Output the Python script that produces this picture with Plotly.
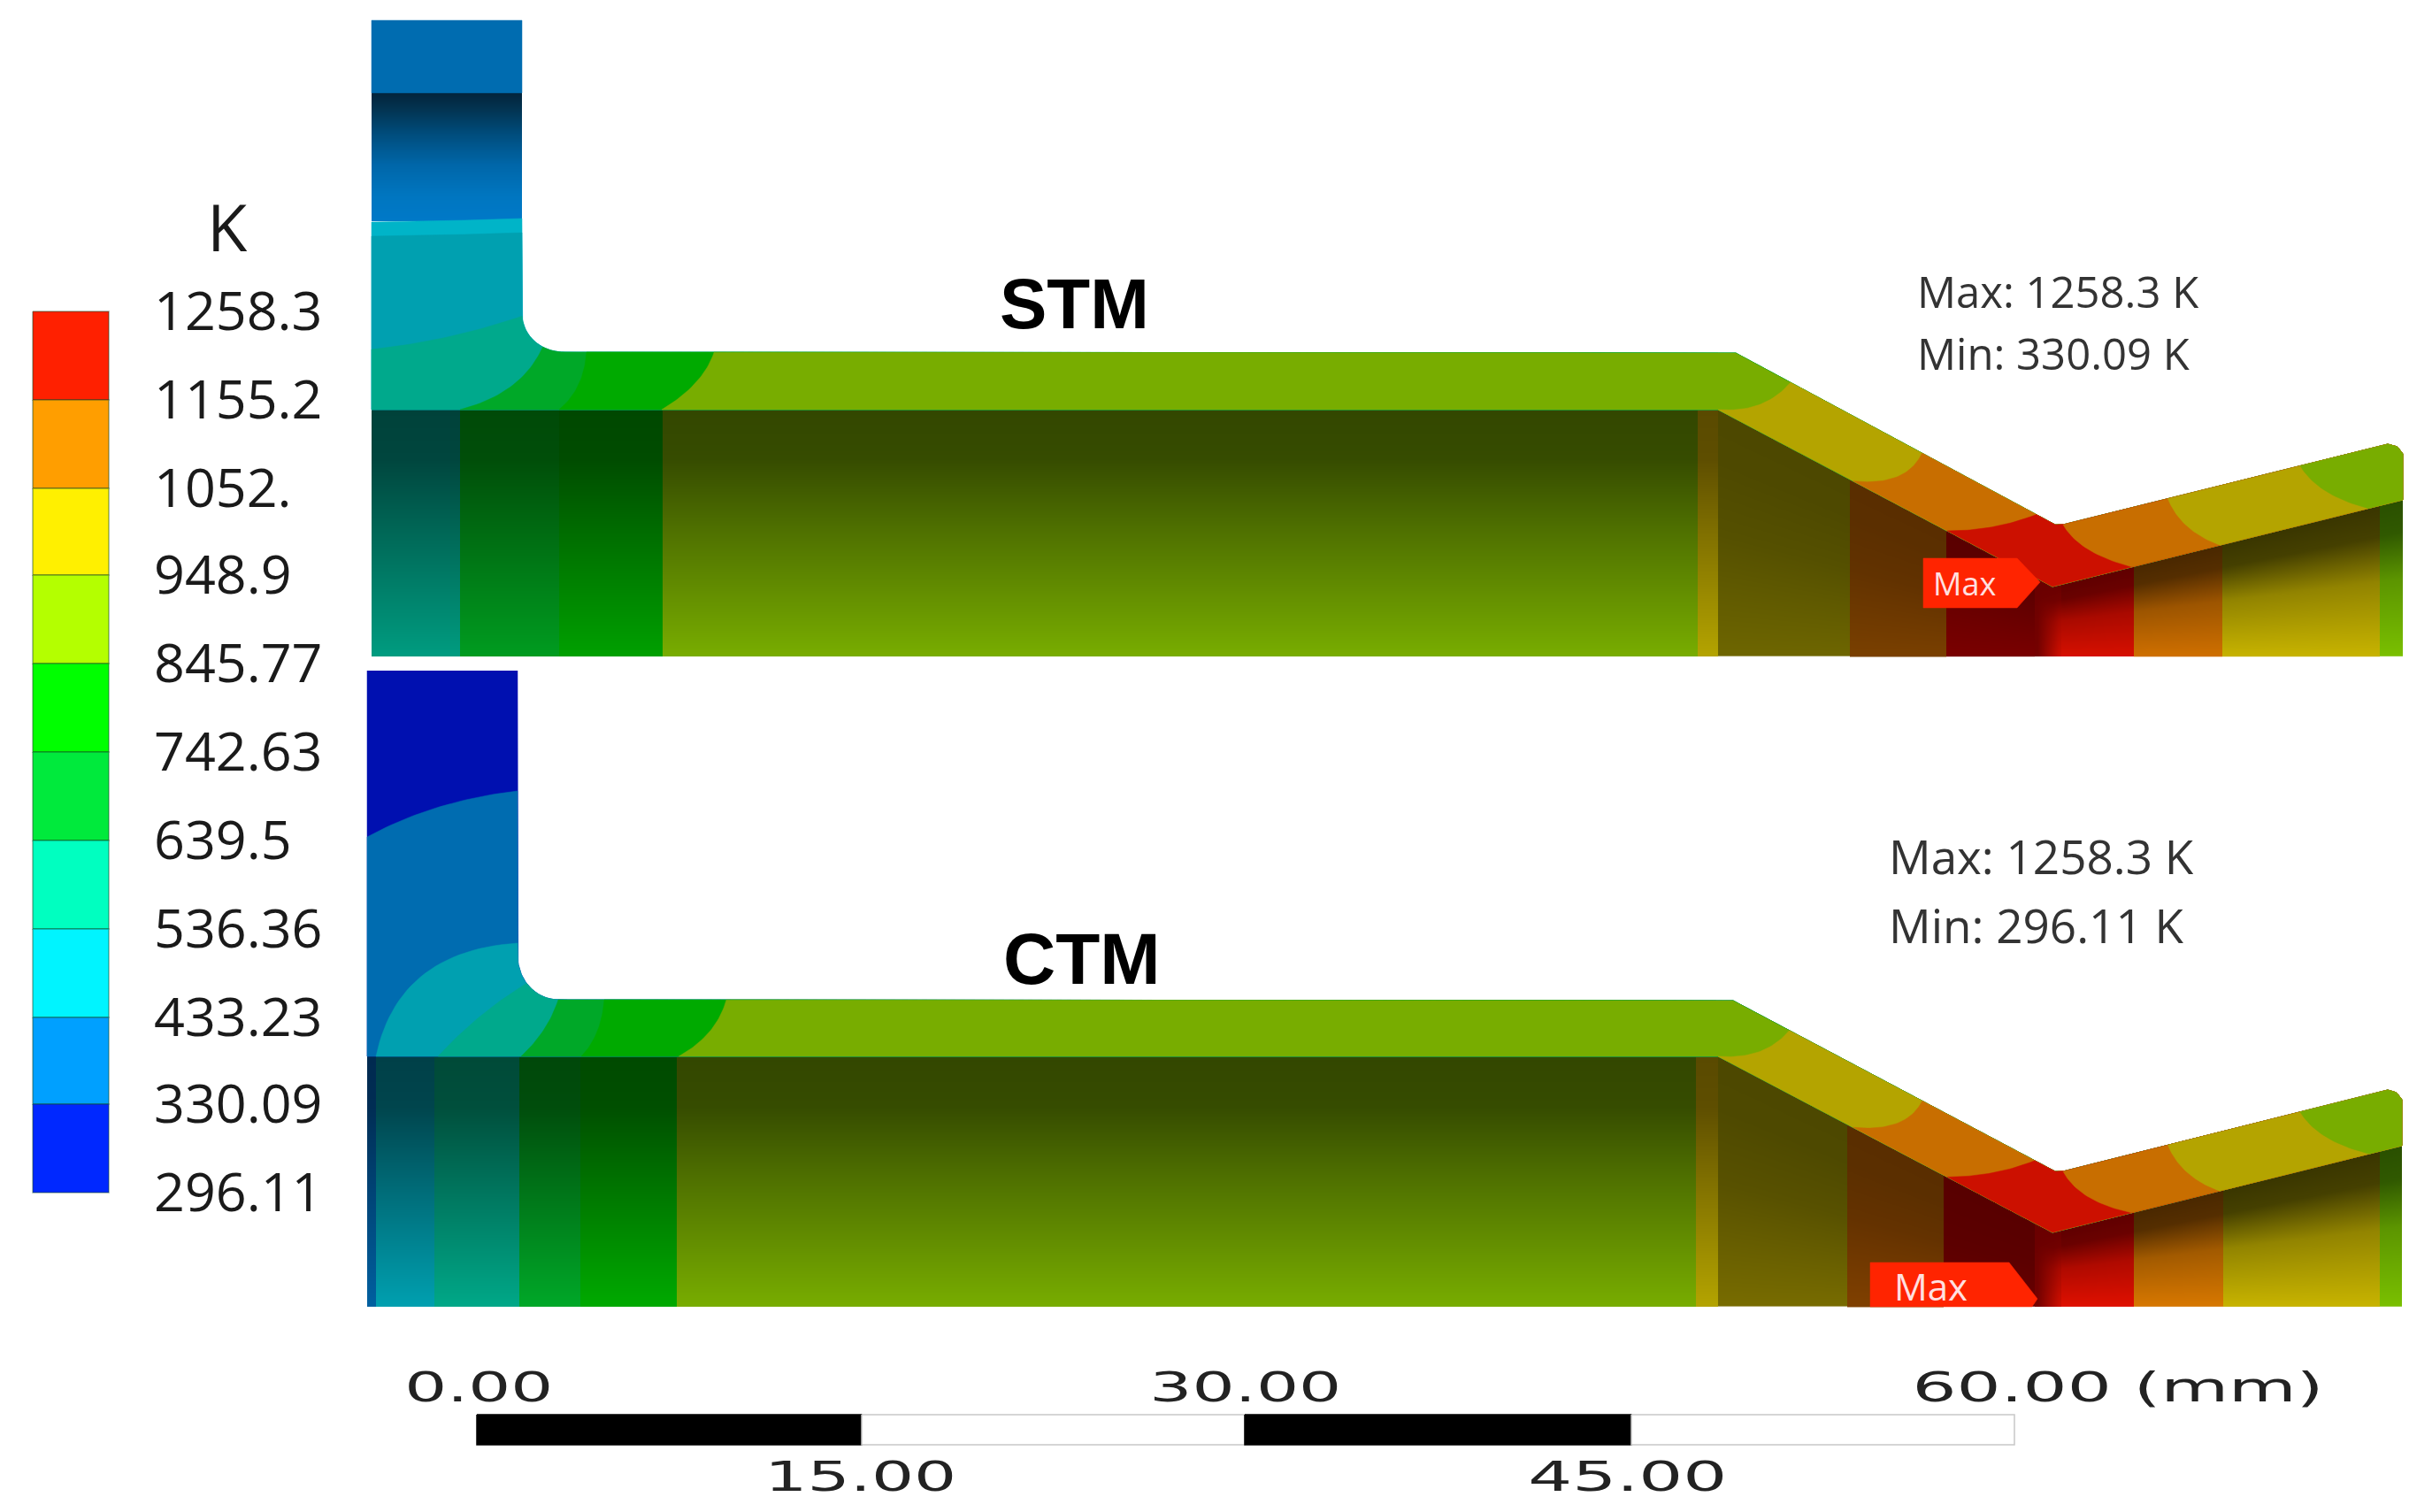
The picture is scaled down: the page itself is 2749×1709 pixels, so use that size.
import numpy as np
import plotly.graph_objects as go

# ---------- legend ----------
LEGEND_LABELS = ["1258.3","1155.2","1052.","948.9","845.77","742.63","639.5","536.36","433.23","330.09","296.11"]
LEGEND_COLORS = ["#ff2000","#ff9e00","#fff000","#b4ff00","#00ff00","#00ea3c","#00ffc0","#00f4ff","#00a0ff","#0028ff"]
LEGEND_Y = [352,452,552,650,750,850,950,1050,1150,1248,1348]
LEGEND_X = [37,123]

# ---------- shared surface colours ----------
GREEN_OLIVE="#78ad00"; GOLD="#b4a400"; ORANGE="#c86e00"; RED="#cc1000"
RAMP_T=[0,.2,.5,1]; RAMP_F=[0,.05,.42,1]
RAMP_R=[0,.08,.62,1]     # faces right of the notch brighten sooner
RAMP_S=[0,.03,.25,1]     # faces under the descending slope stay dark longer
RIGHT_FROM=2330
SLOW_RANGE=[1940,2200]

# ---------- STM geometry (pixels of the drawing space) ----------
STM_OUTER=[(590,23),(590,355),"arc",(637,398),(1962,399),(2323,593),(2332,593),(2699,502),(2710,505),(2716,513),(2716,565)]
STM_INNER=[(420,23),(420,463),(1942,463),(2320,663),(2716,565)]
STM_BOTTOM=742
STM_STEM_BAND=[23,105,250]
STM_BANDS=[
 ((590,248),(505,250),(420,252),"#00b4c8"),
 ((590,264),(505,266),(420,268),"#00a0b0"),
 ((590,357),(510,385),(420,395),"#00a98c"),
 ((611,395),(590,445),(520,463),"#00a828"),
 ((663,398),(660,440),(632,463),"#00aa00"),
 ((807,398),(795,435),(749,463),GREEN_OLIVE),
 ((2022,437),(1995,467),(1942,463),GOLD),
 ((2171,516),(2155,550),(2094,543),ORANGE),
 ((2300,585),(2255,600),(2200,603),RED),
 ((2332,595),(2350,625),(2409,640),ORANGE),
 ((2452,567),(2465,600),(2509,617),GOLD),
 ((2601,528),(2620,560),(2676,570),GREEN_OLIVE),
]
STM_COL_X=[420,520,632,749,1919,1942,2091,2200,2300,2330,2412,2512,2690,2716]
STM_COL_TOP=["#00423a","#004a08","#004800","#334700","#5a4a00","#4d4800","#5a2e00","#5a0000","blend","#600000","#4a2800","#3a3600","#2a5000"]
STM_COL_BOT=["#009c80","#009c20","#00a000","#78ad00","#b4a400","#6e6600","#7a4000","#7a0000","blend","#d81000","#d07000","#c8b400","#7ac000"]

# ---------- CTM geometry ----------
CTM_OUTER=[(585,758),(585,1080),"arc",(631,1130),(1959,1131),(2323,1324),(2332,1324),(2699,1232),(2709,1235),(2715,1243),(2715,1295)]
CTM_INNER=[(415,758),(415,1194),(1942,1194),(2320,1393),(2715,1295)]
CTM_BOTTOM=1477
CTM_BANDS=[
 ((585,895),(490,905),(415,946),"#006cb0"),
 ((585,1066),(450,1075),(426,1193),"#00a0b0"),
 ((592,1114),(540,1145),(495,1193),"#00a98c"),
 ((631,1130),(620,1165),(589,1193),"#00a828"),
 ((684,1130),(680,1170),(657,1193),"#00aa00"),
 ((822,1130),(810,1170),(767,1193),GREEN_OLIVE),
 ((2022,1167),(1995,1198),(1942,1194),GOLD),
 ((2171,1247),(2155,1280),(2094,1275),ORANGE),
 ((2297,1317),(2255,1330),(2200,1332),RED),
 ((2332,1327),(2350,1358),(2409,1368),ORANGE),
 ((2452,1297),(2465,1330),(2509,1345),GOLD),
 ((2601,1258),(2620,1290),(2676,1300),GREEN_OLIVE),
]
CTM_COL_X=[415,425,491,587,656,765,1917,1942,2088,2197,2300,2330,2412,2513,2690,2715]
CTM_COL_TOP=["#002a50","#004048","#004a38","#00480a","#004a00","#334700","#5a4a00","#4d4800","#5a2e00","#580000","blend","#600000","#4a2800","#3a3600","#2a5000"]
CTM_COL_BOT=["#0060a0","#00a0b0","#00a888","#00a828","#00aa00","#78ad00","#b4a400","#786c00","#804000","#6a0000","blend","#e01000","#d87800","#c8b400","#7ac000"]

# ---------- labels ----------
STM_LABEL="STM"; CTM_LABEL="CTM"
STM_MAX="Max: 1258.3 K"; STM_MIN="Min: 330.09 K"
CTM_MAX="Max: 1258.3 K"; CTM_MIN="Min: 296.11 K"
SCALE_EDGES=[539,974,1407,1844,2277]
SCALE_TOP=["0.00","30.00","60.00 (mm)"]
SCALE_TOP_X=[541,1408,2394]
SCALE_BOTTOM=["15.00","45.00"]
SCALE_BOTTOM_X=[973,1840]
SCALE_TEXT_WIDTH={"0.00":168,"30.00":217,"60.00 (mm)":465,"15.00":217,"45.00":225}

W,H=2749,1709
fig=go.Figure()

def hex2rgb(c):
    return np.array([int(c[i:i+2],16) for i in (1,3,5)],float)
def css(v):
    return "rgb(%d,%d,%d)"%tuple(np.round(v))
def ramp(top,bot,fr):
    a,b=hex2rgb(top),hex2rgb(bot)
    return [[t,css(a+(b-a)*f)] for t,f in zip(RAMP_T,fr)]

def densify(poly):
    pts=[]
    for i,p in enumerate(poly):
        if p=="arc":
            a=poly[i-1]; b=poly[i+1]
            for th in np.linspace(0,np.pi/2,16)[1:-1]:
                pts.append((b[0]-(b[0]-a[0])*np.cos(th), a[1]+(b[1]-a[1])*np.sin(th)))
        else:
            pts.append(p)
    out=[]
    for p,q in zip(pts[:-1],pts[1:]):
        n=max(2,int(np.hypot(q[0]-p[0],q[1]-p[1])/2))
        for s in np.linspace(0,1,n,endpoint=False):
            out.append((p[0]+(q[0]-p[0])*s,p[1]+(q[1]-p[1])*s))
    out.append(pts[-1])
    return np.array(out)

def poly_trace(x,y,color,line=None,lw=0.5):
    fig.add_trace(go.Scatter(x=list(x),y=list(y),mode="lines",fill="toself",fillcolor=color,
        line=dict(color=line or color,width=lw),hoverinfo="skip",showlegend=False))

def nearest(arr,p):
    return int(np.argmin(np.hypot(arr[:,0]-p[0],arr[:,1]-p[1])))

def lower_columns(col_x,tops,bots,inner_def,bottom):
    flat=np.array(inner_def[1:],float)
    for k,(x0,x1,t,b) in enumerate(zip(col_x[:-1],col_x[1:],tops,bots)):
        xe=np.linspace(x0,x1,max(3,int((x1-x0)/6)+1))
        xc=(xe[:-1]+xe[1:])/2
        top=np.interp(xc,flat[:,0],flat[:,1])
        ye=np.append(np.arange(top.min()-12,bottom,3.0),bottom)
        yc=(ye[:-1]+ye[1:])/2
        z=np.full((len(yc),len(xc)),np.nan)
        for j,(xv,tv) in enumerate(zip(xc,top)):
            u=np.clip((yc-tv)/(bottom-tv),0,1)
            if t=="blend":
                u=np.interp(u,RAMP_T,RAMP_R)*(xv-x0)/(x1-x0)
            z[:,j]=np.where(yc<tv-12,np.nan,u)
        if t=="blend":
            cs=[[0,"#6a0000"],[1,"#d81000"]]
        elif x0>=RIGHT_FROM:
            cs=ramp(t,b,RAMP_R)
        elif SLOW_RANGE[0]<=x0<SLOW_RANGE[1]:
            cs=ramp(t,b,RAMP_S)
        else:
            cs=ramp(t,b,RAMP_F)
        fig.add_trace(go.Heatmap(x=xe,y=ye,z=z.tolist(),zmin=0,zmax=1,colorscale=cs,zsmooth="best",
            showscale=False,hoverinfo="skip"))

def shell(outer_def,inner_def,bands,first_color):
    outer=densify(outer_def); inner=densify(inner_def)
    if first_color:
        poly_trace(np.r_[outer[:,0],inner[::-1,0]],np.r_[outer[:,1],inner[::-1,1]],first_color)
    for po,pc,pi,c in bands:
        io=nearest(outer,po); ii=nearest(inner,pi)
        a=outer[io]; b=inner[ii]; s=np.linspace(0,1,30)[:,None]
        curve=(1-s)**2*b+2*s*(1-s)*np.array(pc)+s**2*a
        xy=np.r_[curve,outer[io:],inner[ii:][::-1]]
        poly_trace(xy[:,0],xy[:,1],c)

def stem_gradient(x0,x1,y0,y1):
    ye=np.linspace(y0,y1,49)
    t=(ye[:-1]+ye[1:]-2*y0)/2/(y1-y0)
    z=np.c_[t,t]
    cs=[[0,"#03243c"],[.12,"#033350"],[.3,"#004a78"],[.55,"#0066a8"],[.8,"#0076c0"],[1,"#0079c8"]]
    fig.add_trace(go.Heatmap(x=[x0,(x0+x1)/2,x1],y=ye,z=z.tolist(),zmin=0,zmax=1,colorscale=cs,zsmooth="best",
        showscale=False,hoverinfo="skip"))

lower_columns(STM_COL_X,STM_COL_TOP,STM_COL_BOT,STM_INNER,STM_BOTTOM)
lower_columns(CTM_COL_X,CTM_COL_TOP,CTM_COL_BOT,CTM_INNER,CTM_BOTTOM)
stem_gradient(420,590,STM_STEM_BAND[1],STM_STEM_BAND[2])

poly_trace([420,590,590,420,420],[STM_STEM_BAND[0],STM_STEM_BAND[0],STM_STEM_BAND[1],STM_STEM_BAND[1],STM_STEM_BAND[0]],"#006cb0")
shell(STM_OUTER,STM_INNER,STM_BANDS,None)
shell(CTM_OUTER,CTM_INNER,CTM_BANDS,"#0010b0")

poly_trace([2174,2280,2306,2280,2174,2174],[631,631,658,687,687,631],"#ff2400")
poly_trace([2114,2271,2303,2297,2114,2114],[1427,1427,1468,1477,1477,1427],"#ff2400")

for y0,y1,c in zip(LEGEND_Y[:-1],LEGEND_Y[1:],LEGEND_COLORS):
    poly_trace([LEGEND_X[0],LEGEND_X[1],LEGEND_X[1],LEGEND_X[0],LEGEND_X[0]],[y0,y0,y1,y1,y0],c,
               line="rgba(20,70,40,0.45)",lw=1.5)

for i,(a,b) in enumerate(zip(SCALE_EDGES[:-1],SCALE_EDGES[1:])):
    fig.add_trace(go.Scatter(x=[a,b,b,a,a],y=[1599,1599,1633,1633,1599],mode="lines",fill="toself",
        fillcolor="#000000" if i%2==0 else "#ffffff",line=dict(color="#000000" if i%2==0 else "#c8c8c8",width=1.5),
        hoverinfo="skip",showlegend=False))

ann=[]
def text(x,y,s,size,family="Open Sans",color="#1a1a1a",anchor="left",bold=False):
    ann.append(dict(x=x,y=y,xref="x",yref="y",text=("<b>%s</b>"%s if bold else s),showarrow=False,
        xanchor=anchor,yanchor="middle",font=dict(family=family,size=size,color=color)))

text(257,255,"K",74,anchor="center")
for lab,y in zip(LEGEND_LABELS,LEGEND_Y):
    text(172,y-3,lab,61)
text(1214,343,STM_LABEL,80,family="Liberation Sans",color="#000000",anchor="center",bold=True)
text(1223,1083,CTM_LABEL,82,family="Liberation Sans",color="#000000",anchor="center",bold=True)
text(2165,329,STM_MAX,49,color="#333333"); text(2165,399,STM_MIN,49,color="#333333")
text(2133,967,CTM_MAX,53,color="#333333"); text(2133,1045,CTM_MIN,53,color="#333333")
text(2220,659,"Max",36,color="#ffe0e0",anchor="center")
text(2182,1453,"Max",42,color="#ffe0e0",anchor="center")
for s,x in zip(SCALE_TOP,SCALE_TOP_X):
    text(x,1568,s,46,family="DejaVu Sans",color="#222222",anchor="center")
for s,x in zip(SCALE_BOTTOM,SCALE_BOTTOM_X):
    text(x,1669,s,46,family="DejaVu Sans",color="#222222",anchor="center")

fig.update_layout(width=W,height=H,margin=dict(l=0,r=0,t=0,b=0),paper_bgcolor="white",plot_bgcolor="white",
    showlegend=False,annotations=ann,
    xaxis=dict(range=[0,W],visible=False,fixedrange=True),
    yaxis=dict(range=[H,0],visible=False,fixedrange=True))

post="""
document.body.style.margin='0';
var widths=%s;
function stretchLabels(){
  document.querySelectorAll('.annotation-text').forEach(function(t){
    var w=widths[t.textContent];
    if(w){t.setAttribute('textLength',w);t.setAttribute('lengthAdjust','spacingAndGlyphs');}
  });
}
stretchLabels();setTimeout(stretchLabels,50);setTimeout(stretchLabels,300);
""" % str(SCALE_TEXT_WIDTH)
fig.write_html("out.html",config=dict(displayModeBar=False),post_script=post)
